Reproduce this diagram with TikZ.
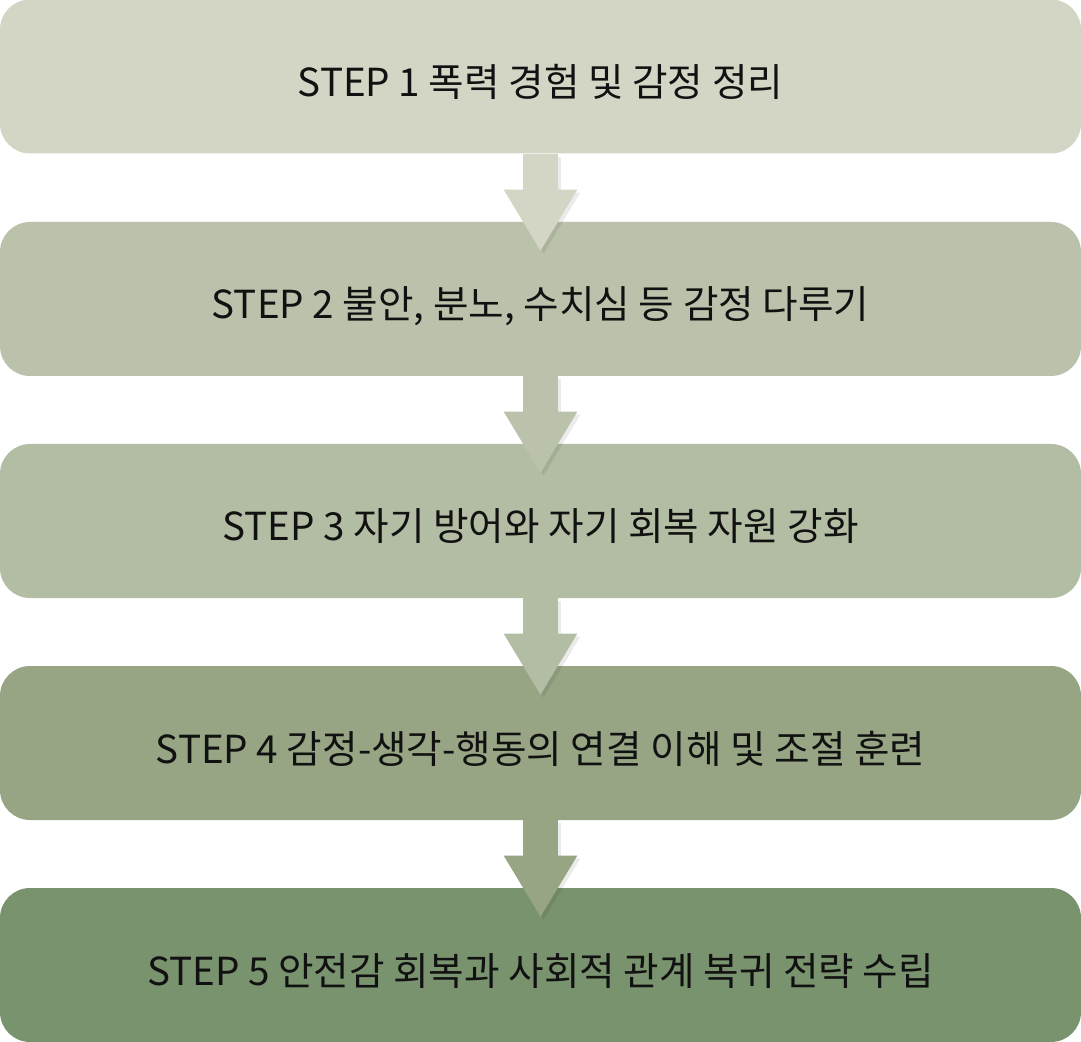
\documentclass[tikz,border=0pt]{standalone}
\usepackage{fontspec}
\setmainfont{Noto Sans CJK KR}
\usetikzlibrary{arrows.meta, positioning}

\definecolor{stepA}{HTML}{D3D5C5}
\definecolor{stepB}{HTML}{BBC2AC}
\definecolor{stepC}{HTML}{B3BDA3}
\definecolor{stepD}{HTML}{97A584}
\definecolor{stepE}{HTML}{7A936F}
\definecolor{stepText}{HTML}{111111}

\begin{document}
\begin{tikzpicture}[x=0.5pt, y=-0.5pt,
  stepbox/.style={rounded corners=15pt, minimum width=540.5pt, minimum height=77pt,
    inner sep=0pt, text=stepText, font=\fontsize{19.3}{22}\selectfont,
    text height=20pt, text depth=0pt},
  flow/.style={line width=17.5pt, shorten >=-15pt,
    -{Triangle[width=34.5pt, length=31pt]}},
  flowshadow/.style={flow, black, opacity=0.08}
  ]

\useasboundingbox (0,0) rectangle (1081,1042);

\node[stepbox, fill=stepA] (s1) at (540.5,76.5) {STEP 1 폭력 경험 및 감정 정리};
\node[stepbox, fill=stepB] (s2) at (540.5,299) {STEP 2 불안, 분노, 수치심 등 감정 다루기};
\node[stepbox, fill=stepC] (s3) at (540.5,521) {STEP 3 자기 방어와 자기 회복 자원 강화};
\node[stepbox, fill=stepD] (s4) at (540.5,743) {STEP 4 감정-생각-행동의 연결 이해 및 조절 훈련};
\node[stepbox, fill=stepE] (s5) at (540.5,965) {STEP 5 안전감 회복과 사회적 관계 복귀 전략 수립};

% arrows between the steps
\draw[flowshadow, transform canvas={xshift=1.5pt, yshift=-1.5pt}] (s1.south) -- (s2.north);
\draw[flow, stepA] (s1.south) -- (s2.north);

\draw[flowshadow, transform canvas={xshift=1.5pt, yshift=-1.5pt}] (s2.south) -- (s3.north);
\draw[flow, stepB] (s2.south) -- (s3.north);

\draw[flowshadow, transform canvas={xshift=1.5pt, yshift=-1.5pt}] (s3.south) -- (s4.north);
\draw[flow, stepC] (s3.south) -- (s4.north);

\draw[flowshadow, transform canvas={xshift=1.5pt, yshift=-1.5pt}] (s4.south) -- (s5.north);
\draw[flow, stepD] (s4.south) -- (s5.north);

\end{tikzpicture}
\end{document}
